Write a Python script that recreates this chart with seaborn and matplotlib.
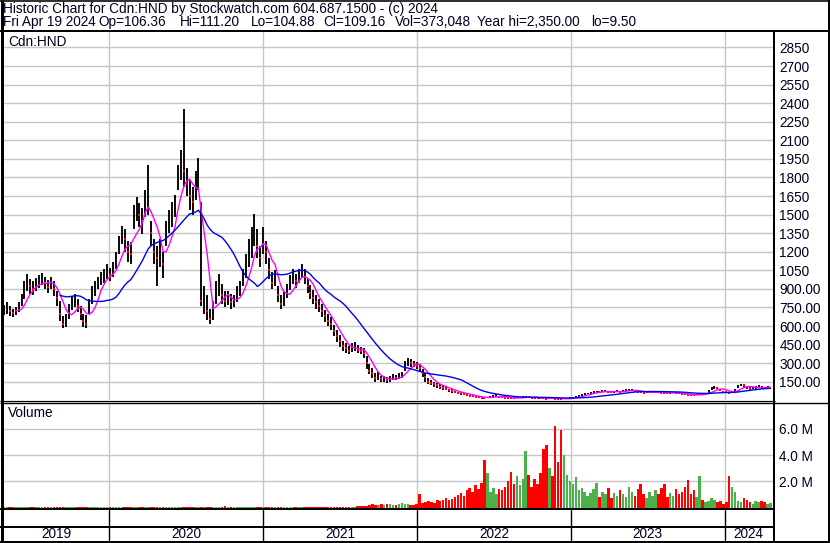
import numpy as np
import pandas as pd
import matplotlib
matplotlib.use("Agg")
import matplotlib.pyplot as plt
from matplotlib.lines import Line2D
import seaborn as sns

sns.set_theme(style="white")
plt.rcParams["font.family"] = ["Liberation Sans", "DejaVu Sans"]

# ---------------- data (weekly) ----------------
start_date = "2019-04-26"

close = [
    730, 745, 720, 705, 715, 745, 800, 880, 950, 920,
    900, 930, 965, 985, 950, 915, 955, 900, 830, 700,
    620, 640, 720, 780, 800, 760, 700, 640, 615, 760,
    850, 900, 950, 985, 1000, 1040, 1010, 1060, 1120, 1260,
    1350, 1300, 1200, 1180, 1480, 1560, 1500, 1450, 1600, 1700,
    1350, 1200, 1150, 1200, 1100, 1350, 1450, 1500, 1580, 1780,
    1900, 1850, 1750, 1650, 1600, 1750, 1800, 800, 800, 720,
    660, 720, 880, 920, 850, 800, 820, 790, 800, 850,
    880, 980, 1080, 1150, 1250, 1380, 1250, 1150, 1300, 1200,
    1050, 950, 980, 850, 780, 820, 880, 950, 1000, 960,
    1000, 1050, 1000, 920, 870, 830, 790, 760, 720, 680,
    640, 620, 560, 520, 480, 440, 420, 400, 420, 440,
    410, 400, 380, 300, 240, 220, 180, 200, 170, 170,
    160, 175, 185, 180, 195, 200, 280, 310, 300, 295,
    280, 260, 220, 190, 150, 140, 130, 120, 110, 100,
    95, 80, 75, 65, 60, 55, 50, 45, 38, 32,
    28, 25, 22, 20, 22, 25, 35, 38, 30, 25,
    22, 20, 18, 17, 20, 22, 25, 30, 28, 22,
    20, 18, 17, 15, 14, 20, 18, 14, 12, 11,
    12, 15, 18, 22, 28, 35, 42, 50, 55, 60,
    65, 70, 68, 72, 75, 70, 65, 68, 72, 70,
    75, 80, 85, 85, 78, 70, 65, 60, 62, 65,
    68, 70, 66, 62, 60, 58, 60, 62, 58, 55,
    52, 48, 45, 42, 40, 45, 50, 48, 55, 70,
    95, 105, 100, 85, 70, 65, 60, 70, 85, 110,
    125, 120, 105, 95, 100, 105, 110, 102, 98, 105,
    109.16,
]

high = [
    770, 790, 760, 740, 750, 790, 860, 960, 1020, 980,
    960, 990, 1010, 1030, 1000, 970, 1000, 960, 880, 800,
    680, 700, 780, 840, 860, 820, 760, 700, 690, 820,
    920, 960, 1000, 1040, 1060, 1100, 1070, 1120, 1200, 1330,
    1410, 1380, 1290, 1280, 1580, 1640, 1590, 1550, 1700, 1900,
    1450, 1300, 1250, 1300, 1200, 1450, 1540, 1600, 1660, 1900,
    2020, 2350, 1880, 1780, 1720, 1850, 1960, 1600, 920, 850,
    740, 800, 960, 1020, 940, 880, 880, 860, 850, 920,
    960, 1060, 1180, 1300, 1400, 1505, 1380, 1250, 1400, 1290,
    1150, 1040, 1050, 920, 850, 880, 940, 1010, 1060, 1020,
    1060, 1100, 1060, 980, 930, 890, 850, 820, 780, 730,
    700, 670, 610, 570, 530, 480, 460, 440, 460, 470,
    450, 430, 420, 360, 290, 260, 220, 230, 200, 195,
    185, 200, 210, 205, 220, 230, 320, 340, 330, 320,
    310, 290, 250, 220, 180, 165, 150, 140, 130, 120,
    110, 95, 88, 78, 70, 64, 58, 52, 45, 38,
    34, 30, 27, 25, 28, 32, 45, 48, 36, 30,
    27, 24, 22, 21, 25, 28, 32, 38, 34, 27,
    24, 22, 20, 19, 18, 25, 22, 18, 15, 14,
    15, 19, 23, 28, 34, 42, 50, 58, 63, 68,
    72, 78, 76, 80, 84, 78, 72, 75, 80, 78,
    83, 88, 95, 95, 86, 78, 72, 67, 70, 72,
    75, 78, 74, 70, 67, 65, 67, 70, 65, 62,
    58, 55, 51, 48, 46, 52, 57, 55, 63, 80,
    105, 115, 110, 95, 78, 72, 68, 78, 95, 122,
    135, 132, 115, 105, 110, 115, 120, 112, 108, 112,
    111.20,
]

low = [
    690, 700, 680, 670, 690, 710, 760, 820, 880, 860,
    850, 880, 910, 930, 900, 870, 900, 840, 760, 640,
    585, 590, 660, 730, 750, 710, 650, 590, 585, 700,
    780, 840, 900, 930, 950, 980, 960, 1000, 1060, 1180,
    1260, 1200, 1120, 1100, 1380, 1450, 1400, 1340, 1480, 1500,
    1250, 1100, 920, 1080, 990, 1250, 1350, 1400, 1480, 1700,
    1780, 1720, 1650, 1540, 1500, 1620, 1700, 760, 700, 650,
    620, 650, 780, 840, 780, 750, 770, 740, 750, 790,
    840, 920, 990, 1080, 1150, 1250, 1150, 1080, 1180, 1100,
    980, 900, 920, 790, 740, 760, 830, 890, 940, 910,
    950, 990, 940, 870, 820, 780, 740, 710, 670, 630,
    600, 570, 520, 470, 430, 400, 380, 370, 390, 400,
    380, 370, 340, 250, 210, 180, 150, 165, 145, 145,
    140, 150, 160, 160, 175, 180, 240, 280, 270, 265,
    255, 225, 190, 150, 130, 120, 110, 100, 90, 85,
    80, 68, 62, 55, 50, 45, 42, 38, 32, 26,
    23, 20, 18, 16, 18, 20, 28, 30, 24, 20,
    18, 16, 15, 14, 16, 18, 20, 24, 22, 18,
    16, 15, 14, 12, 11, 15, 14, 11, 9.5, 9.5,
    10, 12, 15, 18, 23, 29, 35, 43, 48, 53,
    58, 63, 60, 65, 68, 63, 58, 60, 65, 63,
    68, 72, 76, 77, 70, 63, 58, 54, 56, 58,
    61, 63, 60, 56, 54, 52, 54, 56, 52, 49,
    46, 43, 40, 37, 35, 40, 44, 42, 48, 60,
    85, 95, 90, 76, 63, 58, 54, 62, 76, 98,
    112, 108, 95, 86, 90, 95, 100, 94, 90, 96,
    104.88,
]

volume_m = [
    .03, .02, .03, .04, .02, .03, .03, .02, .04, .03,
    .02, .03, .03, .02, .03, .04, .02, .03, .02, .03,
    .03, .02, .04, .03, .02, .03, .02, .03, .03, .02,
    .03, .04, .02, .03, .03, .02, .03, .04, .03, .02,
    .03, .02, .03, .03, .04, .02, .03, .02, .03, .03,
    .02, .03, .03, .04, .02, .03, .02, .03, .04, .03,
    .03, .05, .03, .02, .03, .04, .03, .06, .04, .03,
    .03, .02, .03, .04, .03, .10, .03, .02, .03, .03,
    .02, .03, .04, .03, .02, .03, .03, .04, .02, .03,
    .03, .02, .03, .03, .04, .02, .03, .03, .02, .03,
    .03, .04, .02, .03, .03, .02, .03, .04, .03, .02,
    .03, .03, .04, .02, .03, .05, .03, .04, .05, .06,
    .08, .10, .15, .12, .18, .25, .20, .22, .28, .18,
    .25, .30, .22, .20, .28, .35, .30, .25, .18, .22,
    .30, 1.00, .35, .40, .50, .45, .38, .55, .48, .60,
    .70, .55, .65, .80, .95, 1.10, .90, 1.30, 1.50, 1.20,
    1.70, 1.40, 1.90, 3.60, 2.60, 1.20, 1.50, 1.00, 1.40, 1.30,
    1.60, 2.00, 2.70, 1.80, 2.40, 1.70, 2.20, 4.30, 2.50, 1.60,
    2.20, 1.80, 2.60, 4.50, 4.80, 3.00, 2.40, 6.20, 3.50, 5.90,
    4.00, 2.50, 2.00, 1.80, 2.30, 1.30, 1.50, 1.20, 0.90, 1.10,
    1.40, 1.90, 0.80, 1.20, 1.00, 1.50, 0.70, 1.10, 0.90, 1.30,
    1.00, 0.80, 1.60, 1.20, 0.90, 1.40, 1.80, 1.00, 0.70, 1.20,
    0.90, 1.30, 1.00, 1.50, 1.80, 0.80, 1.10, 0.90, 1.40, 1.00,
    1.20, 1.60, 2.10, 1.00, 1.30, 0.80, 2.40, 0.60, 0.40, 0.50,
    0.70, 0.60, 0.40, 0.50, 0.30, 0.40, 2.40, 1.60, 1.20, 0.50,
    0.40, 0.70, 0.60, 0.40, 0.30, 0.50, 0.40, 0.50, 0.40, 0.30,
    0.37,
]

price_ticks = [150, 300, 450, 600, 750, 900, 1050, 1200, 1350, 1500,
               1650, 1800, 1950, 2100, 2250, 2400, 2550, 2700, 2850]
price_tick_labels = ["150.00", "300.00", "450.00", "600.00", "750.00", "900.00",
                     "1050", "1200", "1350", "1500", "1650", "1800", "1950",
                     "2100", "2250", "2400", "2550", "2700", "2850"]
volume_ticks = [2, 4, 6]
volume_tick_labels = ["2.0 M", "4.0 M", "6.0 M"]
years = [2019, 2020, 2021, 2022, 2023, 2024]

title_line = "Historic Chart for Cdn:HND by Stockwatch.com 604.687.1500 - (c) 2024"
info_items = ["Fri Apr 19 2024", "Op=106.36", "Hi=111.20", "Lo=104.88",
              "Cl=109.16", "Vol=373,048", "Year hi=2,350.00", "lo=9.50"]
info_x_px = [3, 98, 180, 251, 323, 395, 477, 591]
symbol_label = "Cdn:HND"
volume_label = "Volume"

assert len(close) == len(high) == len(low) == len(volume_m)

# ---------------- frame ----------------
df = pd.DataFrame({
    "date": pd.date_range(start_date, periods=len(close), freq="7D"),
    "close": close, "high": high, "low": low, "vol": volume_m,
})
df["ma_fast"] = df["close"].rolling(5).mean()
df["ma_slow"] = df["close"].rolling(20).mean()
df["down"] = df["close"].diff().fillna(0) < 0

W, H = 830, 543
fig = plt.figure(figsize=(W / 100, H / 100), dpi=100, facecolor="white")


def fx(px):
    return px / W


def fy(py):
    return 1 - py / H


def add_axes(x0, x1, y0, y1):
    ax = fig.add_axes([fx(x0), fy(y1), fx(x1) - fx(x0), fy(y0) - fy(y1)])
    ax.set_facecolor("white")
    for s in ax.spines.values():
        s.set_visible(False)
    return ax


xlim = (pd.Timestamp("2019-04-24"), pd.Timestamp("2024-04-25"))
year_starts = [pd.Timestamp(f"{y}-01-01") for y in years[1:]]
GRID = "#c6c6c6"
TXT = "#000020"
FS = 9.8

# ---- price panel
ax_p = add_axes(3, 773, 31.5, 400.3)
ax_p.set_xlim(*xlim)
ax_p.set_ylim(0, 2979)
for v in price_ticks:
    ax_p.axhline(v, color=GRID, lw=1.0, zorder=0)
for d in year_starts:
    ax_p.axvline(d, color=GRID, lw=1.0, zorder=0)
ax_p.vlines(df["date"], df["low"], df["high"], color="black", lw=1.35, zorder=2)
dn = df[df["down"]]
ax_p.scatter(dn["date"], dn["close"], s=4.5, marker="s", color="red", lw=0, zorder=3)
sns.lineplot(data=df, x="date", y="ma_fast", ax=ax_p, color="#ff00ff", lw=1.0, zorder=4)
sns.lineplot(data=df, x="date", y="ma_slow", ax=ax_p, color="#0000ee", lw=1.0, zorder=4)
ax_p.set_xlabel("")
ax_p.set_ylabel("")
ax_p.set_xticks([])
ax_p.yaxis.tick_right()
ax_p.set_yticks(price_ticks)
ax_p.set_yticklabels(price_tick_labels, fontsize=FS, color=TXT)
ax_p.tick_params(axis="y", length=0, pad=4.5)
fig.text(fx(8), fy(42), symbol_label, fontsize=FS, color=TXT, va="center", ha="left")

# ---- volume panel
ax_v = add_axes(3, 773, 404, 507.5)
ax_v.set_xlim(*xlim)
ax_v.set_ylim(0, 7.9)
for v in volume_ticks:
    ax_v.axhline(v, color=GRID, lw=1.0, zorder=0)
for d in year_starts:
    ax_v.axvline(d, color=GRID, lw=1.0, zorder=0)
vcolors = np.where(df["down"], "#ff0000", "#4cb04c")
ax_v.bar(df["date"], df["vol"], width=6.0, color=vcolors, lw=0, zorder=2)
ax_v.set_xticks([])
ax_v.yaxis.tick_right()
ax_v.set_yticks(volume_ticks)
ax_v.set_yticklabels(volume_tick_labels, fontsize=FS, color=TXT)
ax_v.tick_params(axis="y", length=0, pad=4.5)
fig.text(fx(8), fy(413), volume_label, fontsize=FS, color=TXT, va="center", ha="left")

# ---- date rows
ax_d = add_axes(3, 773, 510, 541)
ax_d.set_xlim(*xlim)
ax_d.set_ylim(0, 1)
ax_d.set_xticks([])
ax_d.set_yticks([])
for d in year_starts:
    ax_d.axvline(d, color="black", lw=1.0)
bounds = [xlim[0]] + year_starts + [xlim[1]]
for y, a, b in zip(years, bounds[:-1], bounds[1:]):
    ax_d.text(a + (b - a) / 2, 0.22, str(y), fontsize=FS, color=TXT,
              ha="center", va="center")

# ---- header text
fig.text(fx(3), fy(8.5), title_line, fontsize=FS, color=TXT, va="center", ha="left")
for s, xp in zip(info_items, info_x_px):
    fig.text(fx(xp), fy(22), s, fontsize=FS, color=TXT, va="center", ha="left")


# ---- frame lines (figure pixels)
def hline(y, x0, x1, w):
    fig.add_artist(Line2D([fx(x0), fx(x1)], [fy(y), fy(y)], color="black",
                          lw=w * 0.72, solid_capstyle="butt"))


def vline(x, y0, y1, w):
    fig.add_artist(Line2D([fx(x), fx(x)], [fy(y0), fy(y1)], color="black",
                          lw=w * 0.72, solid_capstyle="butt"))


vline(1.5, 0, H, 3)
vline(828.5, 0, H, 2)
hline(0.8, 0, W, 1.6)
hline(542, 0, W, 2)
hline(30.5, 0, W, 2)
vline(774.3, 30, H, 2)
hline(400.8, 0, 775, 1.2)
hline(403.2, 0, W, 1.4)
hline(509.2, 0, 775, 2)
hline(527, 0, 775, 2)

fig.savefig("out.png", dpi=100, facecolor="white")
